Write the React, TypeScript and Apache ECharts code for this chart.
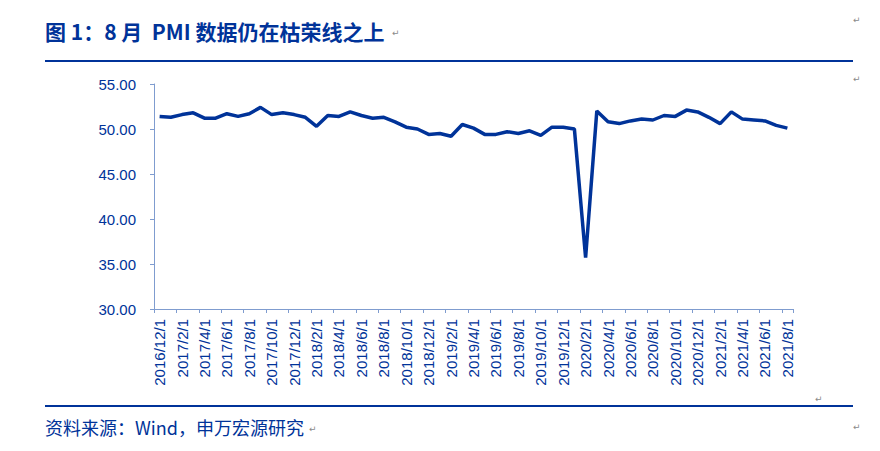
import React, { useEffect, useRef } from "react";
import * as echarts from "echarts";

const categories: string[] = [
  "2016/12/1",
  "2017/1/1","2017/2/1","2017/3/1","2017/4/1","2017/5/1","2017/6/1","2017/7/1","2017/8/1","2017/9/1","2017/10/1","2017/11/1","2017/12/1",
  "2018/1/1","2018/2/1","2018/3/1","2018/4/1","2018/5/1","2018/6/1","2018/7/1","2018/8/1","2018/9/1","2018/10/1","2018/11/1","2018/12/1",
  "2019/1/1","2019/2/1","2019/3/1","2019/4/1","2019/5/1","2019/6/1","2019/7/1","2019/8/1","2019/9/1","2019/10/1","2019/11/1","2019/12/1",
  "2020/1/1","2020/2/1","2020/3/1","2020/4/1","2020/5/1","2020/6/1","2020/7/1","2020/8/1","2020/9/1","2020/10/1","2020/11/1","2020/12/1",
  "2021/1/1","2021/2/1","2021/3/1","2021/4/1","2021/5/1","2021/6/1","2021/7/1","2021/8/1",
];

const pmi: number[] = [
  51.4,
  51.3, 51.6, 51.8, 51.2, 51.2, 51.7, 51.4, 51.7, 52.4, 51.6, 51.8, 51.6,
  51.3, 50.3, 51.5, 51.4, 51.9, 51.5, 51.2, 51.3, 50.8, 50.2, 50.0, 49.4,
  49.5, 49.2, 50.5, 50.1, 49.4, 49.4, 49.7, 49.5, 49.8, 49.3, 50.2, 50.2,
  50.0, 35.7, 52.0, 50.8, 50.6, 50.9, 51.1, 51.0, 51.5, 51.4, 52.1, 51.9,
  51.3, 50.6, 51.9, 51.1, 51.0, 50.9, 50.4, 50.1,
];

const yTicks = { min: 30, max: 55, interval: 5 };

const titleText = "图 1：8 月  PMI 数据仍在枯荣线之上";
const sourceText = "资料来源：Wind，申万宏源研究";

const BLUE = "#003399";
const AXIS = "#7f9ccf";
const MARK = "#8a8a8a";

export default function App() {
  const ref = useRef<HTMLDivElement>(null);
  useEffect(() => {
    if (!ref.current) return;
    const chart = echarts.init(ref.current, undefined, { renderer: "svg" });
    const mark = (x: number, y: number) => ({
      type: "text",
      x,
      y,
      style: { text: "↵", fill: MARK, fontSize: 9, fontFamily: "DejaVu Sans", verticalAlign: "middle" },
    });
    chart.setOption({
      animation: false,
      backgroundColor: "#ffffff",
      grid: { left: 154, right: 87, top: 84, bottom: 142 },
      xAxis: {
        type: "category",
        data: categories,
        boundaryGap: true,
        axisLine: { lineStyle: { color: AXIS, width: 1 } },
        axisTick: { show: true, interval: 1, length: 4, lineStyle: { color: AXIS } },
        axisLabel: {
          interval: 1,
          rotate: 90,
          color: BLUE,
          fontSize: 15,
          fontFamily: "Liberation Sans, Arial, sans-serif",
          margin: 10,
        },
      },
      yAxis: {
        type: "value",
        min: yTicks.min,
        max: yTicks.max,
        interval: yTicks.interval,
        splitLine: { show: false },
        axisLine: { show: true, lineStyle: { color: AXIS, width: 1 } },
        axisTick: { show: true, length: 4, lineStyle: { color: AXIS } },
        axisLabel: {
          color: BLUE,
          fontSize: 15,
          fontFamily: "Liberation Sans, Arial, sans-serif",
          margin: 18,
          formatter: (v: number) => v.toFixed(2),
        },
      },
      series: [
        {
          type: "line",
          data: pmi,
          showSymbol: false,
          symbol: "none",
          lineStyle: { color: BLUE, width: 3.5 },
        },
      ],
      graphic: [
        {
          type: "text",
          x: 45,
          y: 31,
          style: {
            text: titleText,
            fill: BLUE,
            fontSize: 21,
            fontWeight: "bold",
            fontFamily: "Noto Sans CJK SC, sans-serif",
            verticalAlign: "middle",
          },
        },
        mark(392, 33),
        mark(853, 20),
        mark(853, 79),
        { type: "rect", shape: { x: 45, y: 60, width: 808, height: 2 }, style: { fill: BLUE } },
        { type: "rect", shape: { x: 45, y: 405, width: 808, height: 2 }, style: { fill: BLUE } },
        mark(815, 399),
        {
          type: "text",
          x: 45,
          y: 427,
          style: {
            text: sourceText,
            fill: BLUE,
            fontSize: 18,
            fontFamily: "Noto Sans CJK SC, sans-serif",
            verticalAlign: "middle",
          },
        },
        mark(309, 429),
        mark(853, 427),
      ],
    });
    return () => chart.dispose();
  }, []);
  return <div ref={ref} style={{ width: 880, height: 451, margin: -8 }} />;
}
